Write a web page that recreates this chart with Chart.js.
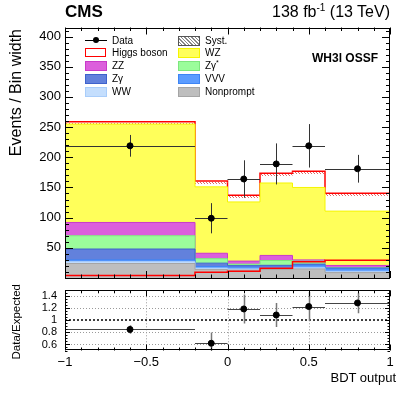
<!DOCTYPE html>
<html lang="en">
<head>
<meta charset="UTF-8">
<title>WH3l OSSF - BDT output</title>
<script src="https://cdn.jsdelivr.net/npm/chart.js@4.4.1/dist/chart.umd.min.js"></script>
<style>
  body { margin: 0; background: #fff; font-family: 'Liberation Sans', Arial, sans-serif; color: #000; }
  #wrap { position: relative; width: 407px; height: 395px; overflow: hidden; }
  canvas { position: absolute; left: 0; }
  #main { top: 0; }
  #ratio { top: 285px; }
  .txt { position: absolute; white-space: nowrap; line-height: 1; }
  .cms { left: 65px; top: 2.5px; font-weight: bold; font-size: 17px; }
  .lumi { right: 17px; top: 3.5px; font-size: 16px; }
  .lumi sup { font-size: 10px; vertical-align: 6px; line-height: 0; }
  .tag { right: 29px; top: 52px; font-weight: bold; font-size: 12px; }
  .ytitle { position: absolute; writing-mode: vertical-rl; transform: rotate(180deg); white-space: nowrap; line-height: 1; }
  .xtitle { right: 11px; top: 371px; font-size: 13px; }
  .leg { font-size: 10px; line-height: 10px; }
  .leg sup { font-size: 7px; line-height: 0; }
  .box { position: absolute; width: 20px; height: 8px; }
</style>
</head>
<body>
<div id="wrap">
  <canvas id="main" width="407" height="285"></canvas>
  <canvas id="ratio" width="407" height="110"></canvas>

  <div class="txt cms">CMS</div>
  <div class="txt lumi">138 fb<sup>-1</sup> (13 TeV)</div>
  <div class="txt tag">WH3l OSSF</div>
  <div class="ytitle" style="left: 8px; top: 29px; font-size: 16px;">Events / Bin width</div>
  <div class="ytitle" style="left: 11px; top: 284px; font-size: 11.5px;">Data/Expected</div>
  <div class="txt xtitle">BDT output</div>

  <div id="legend"></div>
</div>

<script>
  // bins of the BDT output
  const binEdges = [-1, -0.2, 0, 0.2, 0.4, 0.6, 1];
  const binCenters = [-0.6, -0.1, 0.1, 0.3, 0.5, 0.8];

  // expected events / bin width, stacked bottom to top
  const nonprompt  = [24, 14, 13, 14, 15, 9];
  const ww         = [3, 2.3, 2, 2, 2, 2];
  const vvv        = [3, 2.7, 3, 2, 4, 4];
  const zgamma     = [18, 5.6, 2.5, 3, 2, 1.5];
  const zgammaStar = [22, 7.4, 2.5, 8, 5, 0.5];
  const zz         = [22, 9, 5, 8.4, 2, 3.8];
  const wz         = [163, 110, 98, 120, 120, 90];
  const higgs      = [4, 9.5, 11, 16, 27, 29.5];

  // observed
  const dataValues = [219, 99, 164, 189, 219, 181];
  const dataErrors = [18, 25, 31, 34, 36, 23];
  const ratioValues = [0.85, 0.62, 1.19, 1.09, 1.23, 1.29];
  const ratioErrors = [0.07, 0.18, 0.24, 0.2, 0.24, 0.17];

  // axis ticks
  const mainYTicks = [50, 100, 150, 200, 250, 300, 350, 400];
  const ratioYTicks = [0.6, 0.8, 1, 1.2, 1.4];
  const ratioYLabels = ['0.6', '0.8', '1', '1.2', '1.4'];
  const xTicks = [-1, -0.5, 0, 0.5, 1];
  const xTickLabels = ['\u22121', '\u22120.5', '0', '0.5', '1'];

  const components = [
    { label: 'Nonprompt', values: nonprompt, fill: '#bebebe', line: '#a5a5a5' },
    { label: 'WW', values: ww, fill: '#c4defd', line: '#a9cdfa' },
    { label: 'VVV', values: vvv, fill: '#5c9cff', line: '#3d85f5' },
    { label: 'Z\u03b3', values: zgamma, fill: '#6281dc', line: '#3e62cc' },
    { label: 'Z\u03b3*', values: zgammaStar, fill: '#9bfd9b', line: '#7ee67e' },
    { label: 'ZZ', values: zz, fill: '#dc5fdc', line: '#c93ac9' },
    { label: 'WZ', values: wz, fill: '#ffff5a', line: '#f5f500' }
  ];

  Chart.defaults.font.family = "'Liberation Sans', Arial, sans-serif";
  Chart.defaults.color = '#000';

  // histogram as a step line: one point per left edge, plus the closing edge
  function stepPoints(values) {
    return binEdges.map((x, i) => ({ x: x, y: values[Math.min(i, values.length - 1)] }));
  }

  // keep the plot area exactly where the layout padding puts it
  function fixWidth(w) {
    return s => { s.width = w; s.paddingTop = 0; s.paddingBottom = 0; };
  }
  function fixHeight(h) {
    return s => { s.height = h; s.paddingLeft = 0; s.paddingRight = 0; };
  }

  // ROOT style frame with inward ticks on all four sides
  const rootFrame = {
    id: 'rootFrame',
    afterDraw(chart, args, o) {
      const { ctx, chartArea: a } = chart;
      const xs = chart.scales.x, ys = chart.scales.y;
      const isMajor = (v, origin, step) => Math.abs((v - origin) / step - Math.round((v - origin) / step)) < 1e-6;
      ctx.save();
      ctx.strokeStyle = '#000';
      ctx.lineWidth = 1;
      ctx.beginPath();
      for (let k = 0; k <= 20; k++) {
        const v = -1 + k * 0.1;
        const px = Math.round(xs.getPixelForValue(v)) + 0.5;
        const len = isMajor(v, -1, 0.5) ? o.xMajor : o.xMinor;
        ctx.moveTo(px, a.bottom); ctx.lineTo(px, a.bottom - len);
        ctx.moveTo(px, a.top); ctx.lineTo(px, a.top + len);
      }
      for (let v = o.yFrom; v <= ys.max + 1e-9; v += o.yStep) {
        const py = Math.round(ys.getPixelForValue(v)) + 0.5;
        const len = isMajor(v, o.yOrigin, o.yMajorStep) ? o.yMajor : o.yMinor;
        ctx.moveTo(a.left, py); ctx.lineTo(a.left + len, py);
        ctx.moveTo(a.right, py); ctx.lineTo(a.right - len, py);
      }
      ctx.stroke();
      ctx.strokeRect(Math.round(a.left) + 0.5, Math.round(a.top) + 0.5, Math.round(a.width) - 1, Math.round(a.height) - 1);
      ctx.restore();
    }
  };

  // error bars: vertical error, horizontal bar = bin width
  const errorBars = {
    id: 'errorBars',
    beforeDatasetDraw(chart, args, o) {
      if (args.index !== o.datasetIndex) return;
      const { ctx, chartArea: a } = chart;
      const xs = chart.scales.x, ys = chart.scales.y;
      ctx.save();
      ctx.beginPath();
      ctx.rect(a.left, a.top, a.width, a.height);
      ctx.clip();
      o.values.forEach((v, i) => {
        const py = Math.round(ys.getPixelForValue(v)) + 0.5;
        const px = Math.round(xs.getPixelForValue(binCenters[i])) + 0.5;
        ctx.strokeStyle = o.hColor;
        ctx.lineWidth = 1;
        ctx.beginPath();
        ctx.moveTo(xs.getPixelForValue(binEdges[i]), py);
        ctx.lineTo(xs.getPixelForValue(binEdges[i + 1]), py);
        ctx.stroke();
        ctx.strokeStyle = o.vColor;
        ctx.lineWidth = o.vWidth;
        ctx.beginPath();
        ctx.moveTo(px, ys.getPixelForValue(v - o.errors[i]));
        ctx.lineTo(px, ys.getPixelForValue(v + o.errors[i]));
        ctx.stroke();
      });
      ctx.restore();
    }
  };

  // thin hatched syst. band under the total
  const systBand = {
    id: 'systBand',
    afterDatasetDraw(chart, args, o) {
      if (args.index !== o.datasetIndex) return;
      const meta = chart.getDatasetMeta(o.datasetIndex);
      const ctx = chart.ctx;
      const c = document.createElement('canvas');
      c.width = 3; c.height = 3;
      const g = c.getContext('2d');
      g.fillStyle = o.color;
      g.fillRect(0, 0, 1, 1); g.fillRect(1, 1, 1, 1); g.fillRect(2, 2, 1, 1);
      ctx.save();
      ctx.fillStyle = ctx.createPattern(c, 'repeat');
      for (let j = 0; j < meta.data.length - 1; j++) {
        const p = meta.data[j], q = meta.data[j + 1];
        ctx.fillRect(p.x, Math.round(p.y) + 1, q.x - p.x, o.height);
      }
      ctx.restore();
    }
  };

  // dotted grid in the ratio panel
  const ratioGrid = {
    id: 'ratioGrid',
    beforeDatasetsDraw(chart) {
      const { ctx, chartArea: a } = chart;
      const xs = chart.scales.x, ys = chart.scales.y;
      ctx.save();
      ctx.setLineDash([1, 2]);
      ctx.strokeStyle = '#9a9a9a';
      ctx.lineWidth = 1;
      ctx.beginPath();
      xTicks.slice(1, -1).forEach(v => {
        const px = Math.round(xs.getPixelForValue(v)) + 0.5;
        ctx.moveTo(px, a.top); ctx.lineTo(px, a.bottom);
      });
      ratioYTicks.filter(v => v !== 1).forEach(v => {
        const py = Math.round(ys.getPixelForValue(v)) + 0.5;
        ctx.moveTo(a.left, py); ctx.lineTo(a.right, py);
      });
      ctx.stroke();
      ctx.strokeStyle = '#000';
      ctx.lineWidth = 1.5;
      ctx.setLineDash([2, 2]);
      ctx.beginPath();
      const p1 = Math.round(ys.getPixelForValue(1));
      ctx.moveTo(a.left, p1); ctx.lineTo(a.right, p1);
      ctx.stroke();
      ctx.restore();
    }
  };

  const stackSets = components.map((c, i) => ({
    label: c.label,
    data: stepPoints(c.values),
    stack: 'bkg',
    stepped: true,
    fill: i === 0 ? 'origin' : '-1',
    backgroundColor: c.fill,
    borderColor: c.line,
    borderWidth: 1,
    pointRadius: 0,
    order: 10
  }));

  const higgsIndex = stackSets.length;
  stackSets.push({
    label: 'Higgs boson',
    data: stepPoints(higgs),
    stack: 'bkg',
    stepped: true,
    fill: false,
    borderColor: '#ff0000',
    borderWidth: 1.5,
    pointRadius: 0,
    order: 10
  });

  const dataIndex = stackSets.length + 1;
  const mainSets = stackSets.concat([
    {
      label: 'Higgs boson alone',
      data: stepPoints(higgs),
      stack: 'sig',
      stepped: true,
      fill: false,
      borderColor: '#ff0000',
      borderWidth: 1.5,
      pointRadius: 0,
      order: 1
    },
    {
      label: 'Data',
      data: binCenters.map((x, i) => ({ x: x, y: dataValues[i] })),
      stack: 'data',
      showLine: false,
      pointRadius: 3,
      pointBackgroundColor: '#000',
      pointBorderColor: '#000',
      order: 0
    }
  ]);

  new Chart(document.getElementById('main'), {
    type: 'line',
    data: { datasets: mainSets },
    options: {
      responsive: false,
      animation: false,
      events: [],
      layout: { padding: { top: 27.5, right: 17, bottom: 7, left: 0 } },
      plugins: {
        legend: { display: false },
        tooltip: { enabled: false },
        rootFrame: { xMajor: 7, xMinor: 3.5, yFrom: 0, yStep: 10, yOrigin: 0, yMajorStep: 50, yMajor: 8, yMinor: 4 },
        errorBars: { datasetIndex: dataIndex, values: dataValues, errors: dataErrors, hColor: '#333', vColor: '#333', vWidth: 1 },
        systBand: { datasetIndex: higgsIndex, color: '#e06a6a', height: 2 }
      },
      scales: {
        x: {
          type: 'linear', min: -1, max: 1,
          grid: { display: false, drawTicks: false },
          border: { display: false },
          ticks: { display: false },
          afterFit: fixHeight(0)
        },
        y: {
          stacked: true, min: 0, max: 415,
          grid: { display: false, drawTicks: false },
          border: { display: false },
          afterBuildTicks: s => { s.ticks = mainYTicks.map(v => ({ value: v })); },
          ticks: { font: { size: 13 }, padding: 4, autoSkip: false },
          afterFit: fixWidth(65)
        }
      }
    },
    plugins: [rootFrame, errorBars, systBand]
  });

  new Chart(document.getElementById('ratio'), {
    type: 'line',
    data: {
      datasets: [{
        label: 'Data/Expected',
        data: binCenters.map((x, i) => ({ x: x, y: ratioValues[i] })),
        showLine: false,
        pointRadius: 3,
        pointBackgroundColor: '#000',
        pointBorderColor: '#000'
      }]
    },
    options: {
      responsive: false,
      animation: false,
      events: [],
      layout: { padding: { top: 5.3, right: 17, bottom: 0, left: 0 } },
      plugins: {
        legend: { display: false },
        tooltip: { enabled: false },
        rootFrame: { xMajor: 6, xMinor: 3, yFrom: 0.5, yStep: 0.05, yOrigin: 0.6, yMajorStep: 0.2, yMajor: 5, yMinor: 2.5 },
        errorBars: { datasetIndex: 0, values: ratioValues, errors: ratioErrors, hColor: '#444', vColor: '#777', vWidth: 1.5 }
      },
      scales: {
        x: {
          type: 'linear', min: -1, max: 1,
          grid: { display: false, drawTicks: false },
          border: { display: false },
          afterBuildTicks: s => { s.ticks = xTicks.map(v => ({ value: v })); },
          ticks: { font: { size: 13 }, padding: 4, maxRotation: 0, autoSkip: false, callback: (v, i) => xTickLabels[i] },
          afterFit: fixHeight(44.5)
        },
        y: {
          min: 0.5, max: 1.5,
          grid: { display: false, drawTicks: false },
          border: { display: false },
          afterBuildTicks: s => { s.ticks = ratioYTicks.map(v => ({ value: v })); },
          ticks: { font: { size: 11 }, padding: 8, autoSkip: false, callback: (v, i) => ratioYLabels[i] },
          afterFit: fixWidth(65)
        }
      }
    },
    plugins: [rootFrame, errorBars, ratioGrid]
  });

  // legend, two columns like the ROOT TLegend
  const legendRows = [
    [{ kind: 'data', text: 'Data' }, { kind: 'syst', text: 'Syst.' }],
    [{ kind: 'higgs', text: 'Higgs boson' }, { kind: 'fill', c: components[6], text: 'WZ' }],
    [{ kind: 'fill', c: components[5], text: 'ZZ' }, { kind: 'fill', c: components[4], text: 'Z\u03b3<sup>*</sup>' }],
    [{ kind: 'fill', c: components[3], text: 'Z\u03b3' }, { kind: 'fill', c: components[2], text: 'VVV' }],
    [{ kind: 'fill', c: components[1], text: 'WW' }, { kind: 'fill', c: components[0], text: 'Nonprompt' }]
  ];
  const rowY = [40.5, 53.3, 66.3, 79, 92];
  const colX = [85, 178];
  const legend = document.getElementById('legend');
  legendRows.forEach((row, r) => {
    row.forEach((e, c) => {
      const x = colX[c], y = rowY[r];
      if (e.kind === 'data') {
        legend.insertAdjacentHTML('beforeend',
          `<div style="position:absolute;left:${x}px;top:${y - 0.5}px;width:22px;height:1px;background:#000"></div>` +
          `<div style="position:absolute;left:${x + 8}px;top:${y - 3.5}px;width:6px;height:6px;border-radius:50%;background:#000"></div>`);
      } else {
        let style = '';
        if (e.kind === 'syst') style = 'border:1px solid #555;background:repeating-linear-gradient(45deg,#fff 0 1.5px,#888 1.5px 2.5px)';
        if (e.kind === 'higgs') style = 'border:1.5px solid #ff0000;background:#fff;width:19px;height:7px';
        if (e.kind === 'fill') style = `border:1px solid ${e.c.line};background:${e.c.fill}`;
        legend.insertAdjacentHTML('beforeend',
          `<div class="box" style="left:${x}px;top:${y - 5}px;${style}"></div>`);
      }
      legend.insertAdjacentHTML('beforeend',
        `<div class="txt leg" style="left:${x + 27}px;top:${y - 5}px">${e.text}</div>`);
    });
  });
</script>
</body>
</html>
